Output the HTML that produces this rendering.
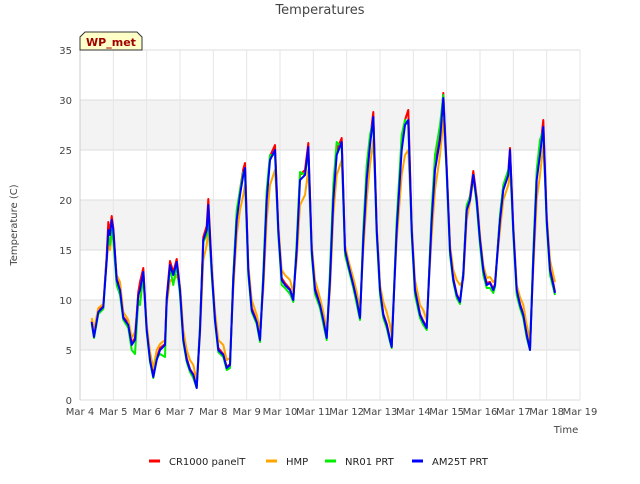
<!DOCTYPE html>
<html><head><meta charset="utf-8"><style>
body{margin:0;background:#fff;font-family:"DejaVu Sans",sans-serif;}
</style></head><body>
<svg id="chart" width="640" height="480" xmlns="http://www.w3.org/2000/svg" font-family="DejaVu Sans, sans-serif">
<text x="320" y="14" text-anchor="middle" font-size="13" fill="#444">Temperatures</text>
<g id="plot"></g>
<g>
<path d="M80,50 L80,37 L85,32 L137,32 L142,37 L142,50 Z" fill="#ffffc8" stroke="#333" stroke-width="1"/>
<text x="111" y="46" text-anchor="middle" font-size="11" font-weight="bold" fill="#a00000">WP_met</text>
</g>
<text x="566" y="433" text-anchor="middle" font-size="10" fill="#444">Time</text>
<text transform="translate(17,225) rotate(-90)" text-anchor="middle" font-size="10" fill="#444">Temperature (C)</text>
<g id="legend"></g>
</svg>
<script>
const xTickLabels=["Mar 4","Mar 5","Mar 6","Mar 7","Mar 8","Mar 9","Mar 10","Mar 11","Mar 12","Mar 13","Mar 14","Mar 15","Mar 16","Mar 17","Mar 18","Mar 19"];
const yTicks=[0,5,10,15,20,25,30,35];
const seriesNames=["CR1000 panelT","HMP","NR01 PRT","AM25T PRT"];
const seriesColors=["#ff0000","#ffa500","#00ee00","#0000ff"];
const times=[0.35,0.42,0.55,0.7,0.8,0.85,0.9,0.95,1.0,1.1,1.2,1.3,1.45,1.55,1.65,1.75,1.8,1.9,2.0,2.1,2.2,2.3,2.4,2.55,2.6,2.7,2.8,2.9,3.0,3.1,3.2,3.3,3.4,3.5,3.6,3.7,3.8,3.85,3.95,4.05,4.15,4.3,4.4,4.5,4.6,4.7,4.8,4.9,4.95,5.05,5.15,5.3,5.4,5.5,5.6,5.7,5.85,5.95,6.05,6.15,6.3,6.4,6.5,6.6,6.75,6.85,6.95,7.05,7.2,7.3,7.4,7.5,7.6,7.7,7.85,7.95,8.05,8.2,8.3,8.4,8.5,8.6,8.7,8.8,8.9,9.0,9.1,9.2,9.3,9.35,9.5,9.65,9.75,9.85,9.95,10.05,10.2,10.3,10.4,10.55,10.65,10.8,10.9,11.0,11.1,11.2,11.3,11.4,11.5,11.6,11.7,11.8,11.9,12.0,12.1,12.2,12.3,12.4,12.45,12.6,12.7,12.85,12.9,13.0,13.1,13.2,13.3,13.4,13.5,13.6,13.7,13.8,13.9,14.0,14.1,14.2,14.25];
const cr1000=[7.9,6.4,8.9,9.4,14.5,17.8,16.8,18.4,17.2,12.2,11.2,8.3,7.7,5.7,6.2,10.8,11.8,13.2,7.2,4.2,2.5,4.2,5.2,5.6,10.3,13.9,12.8,14.1,11.2,6.2,4.2,3.1,2.6,1.3,7.2,16.3,17.4,20.1,13.3,8.2,5.2,4.6,3.3,3.6,12.3,18.4,21,23.1,23.7,13.3,9.2,7.9,6.1,12.3,20.4,24.4,25.5,17.3,12.2,11.7,11.1,10.1,15.3,22.5,23,25.7,15.3,11.2,9.6,8.1,6.3,12.3,20.4,25,26.2,15.3,13.7,11.7,10.1,8.3,16.3,22.5,26,28.8,17.3,11.2,8.6,7.6,6.1,5.4,17.3,25.5,28,29,17.3,11.2,8.6,7.9,7.3,18.3,23.5,26.5,30.7,23.3,15.3,12.2,10.6,9.9,12.7,19.3,20.4,22.9,20.3,16.2,13.2,11.7,11.8,11.1,11.6,18.3,21.4,22.9,25.2,17.3,11.2,9.6,8.6,6.6,5.1,14.3,22.5,25,28,18.3,13.2,11.7,10.8];
const hmp=[8.2,7,9.2,9.6,13.8,15.5,15,16.5,16,12.5,11.8,8.8,8,6.2,6.8,10.2,10.5,12,7.6,4.8,3.2,5,5.6,6,9.5,12,11.8,12.5,11.5,7,5,4,3.5,2,6.5,14,15.5,17,13.5,8.8,6,5.5,4,4.2,11,16.5,19,20.5,21.5,13.5,10,8.5,7,11,18,21.5,23,17.5,13,12.5,12,10.8,14,19.5,20.5,23,15.5,12,10.2,8.8,7,11,18.5,22.5,24,15.5,14,12.2,10.8,9,15,20,23.5,26,17.5,11.5,9.8,8.8,7.5,6.5,16,22.5,24.5,25,17.5,12,9.5,9,8,16.5,21,24.5,28,23,15.5,13,12,11.5,12,18,19.8,22,20.5,16.5,13.5,12.2,12.3,11.8,12,17,20,21.5,23,17.5,11.5,10.3,9.5,7.5,6,13,20,22.5,25.5,18.5,14,12.5,11.8];
const nr01=[7.6,6.2,8.6,9.1,14.2,16.5,15.5,17,16,11.5,10.5,8,7.2,5,4.6,10,9.5,12.5,6.8,3.8,2.2,4.2,4.6,4.3,10,13.2,11.5,13.5,10.5,5.8,3.8,2.8,2.2,1.2,7.5,15.8,16.5,18.5,12.5,7.8,4.8,4.3,3,3.2,12.5,19,21,22.8,22.5,12.5,8.8,7.6,5.8,12.8,21,24.5,24.5,16.5,11.5,11.2,10.6,9.8,15.8,22.8,22.5,24.8,14.5,10.6,9.2,7.6,6,13,21.5,25.8,25.3,14.5,13.2,11.2,9.6,8,17,23.5,26.5,28,16.5,10.5,8.2,7.2,5.8,5.2,18,26.5,28,27.5,16.5,10.5,8.2,7.5,7,19,24.5,27.5,30.5,22.5,14.5,11.8,10.2,9.6,12.8,19.5,20.3,22.5,19.5,15.5,12.5,11.2,11.2,10.7,11.3,18.5,21.5,23,24.2,16.5,10.5,9.2,8.2,6.2,5,14.8,23,26,27,17.5,12.5,11.2,10.5];
const am25t=[7.8,6.3,8.8,9.3,14,17,16.5,18,17,12,11,8.2,7.5,5.5,6,10.5,11,12.8,7,4,2.3,4,5,5.5,10,13.5,12.5,13.8,11,6,4,3,2.5,1.2,7,16,17,19.5,13,8,5,4.5,3.2,3.5,12,18,20.5,22.5,23.2,13,9,7.8,6,12,20,24,25,17,12,11.5,11,10,15,22,22.5,25.3,15,11,9.5,8,6.2,12,20,24.5,25.8,15,13.5,11.5,10,8.2,16,22,25.5,28.3,17,11,8.5,7.5,6,5.3,17,25,27.5,28,17,11,8.5,7.8,7.2,18,23,26,30.2,23,15,12,10.5,9.8,12.5,19,20,22.5,20,16,13,11.5,11.7,11,11.5,18,21,22.5,25,17,11,9.5,8.5,6.5,5,14,22,24.5,27.3,18,13,11.5,10.7];
const seriesValues=[cr1000,hmp,nr01,am25t];

const NS="http://www.w3.org/2000/svg";
const X0=80,X1=580,Y0=400,Y1=50;
const xScale=d=>X0+(X1-X0)*d/15;
const yScale=v=>Y0-(Y0-Y1)*v/35;
const plot=document.getElementById('plot');
function mk(tag,attrs,parent){const e=document.createElementNS(NS,tag);for(const k in attrs)e.setAttribute(k,attrs[k]);parent.appendChild(e);return e;}
const bg=mk('rect',{x:X0,y:Y1,width:X1-X0,height:Y0-Y1,fill:'#fff'},plot);


for(let i=0;i<yTicks.length-1;i++){
  if(i%2===1){const b=mk('rect',{x:X0,y:yScale(yTicks[i+1]),width:X1-X0,height:yScale(yTicks[i])-yScale(yTicks[i+1]),fill:'#f3f3f3'},plot);
  
  }
}
yTicks.forEach(v=>{
  const l=mk('line',{x1:X0,x2:X1,y1:yScale(v),y2:yScale(v),stroke:'#dddddd','stroke-width':1},plot);
  
  
  const t=mk('text',{x:X0-8,y:yScale(v)+4,'text-anchor':'end','font-size':10,fill:'#444'},plot);
  t.textContent=v;
  
  
});
xTickLabels.forEach((s,i)=>{
  const l=mk('line',{x1:xScale(i),x2:xScale(i),y1:Y1,y2:Y0,stroke:'#e6e6e6','stroke-width':1},plot);
  
  
  const t=mk('text',{x:xScale(i),y:Y0+15,'text-anchor':'middle','font-size':10,fill:'#444'},plot);
  t.textContent=s;
  
  
});
const ax=mk('line',{x1:X0,x2:X0,y1:Y1,y2:Y0,stroke:'#cccccc'},plot);


seriesValues.forEach((vals,si)=>{
  const d=vals.map((v,i)=>(i?'L':'M')+xScale(times[i]).toFixed(1)+','+yScale(v).toFixed(1)).join(' ');
  const p=mk('path',{d:d,fill:'none',stroke:seriesColors[si],'stroke-width':2,'stroke-linejoin':'round'},plot);
  
  
});
const lg=document.getElementById('legend');
const lx=[149,266,325,412];
seriesNames.forEach((n,i)=>{
  const g=mk('g',{},lg);
  
  
  mk('line',{x1:lx[i],x2:lx[i]+11,y1:461,y2:461,stroke:seriesColors[i],'stroke-width':3},g);
  const t=mk('text',{x:lx[i]+20,y:465,'font-size':10,fill:'#222'},g);
  t.textContent=n;
});
</script>
</body></html>
